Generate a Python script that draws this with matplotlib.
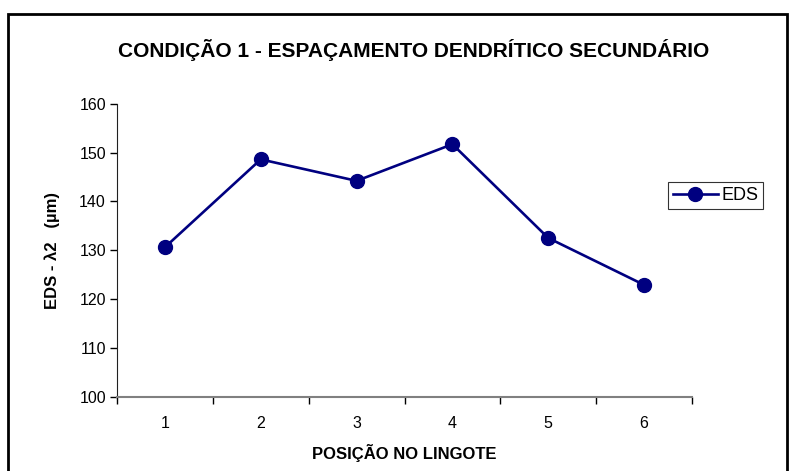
import matplotlib.pyplot as plt
from matplotlib.patches import Rectangle

plt.rcParams['font.family'] = ['Liberation Sans', 'DejaVu Sans']

# Data
positions = [1, 2, 3, 4, 5, 6]
eds_values = [130.6, 148.6, 144.2, 151.7, 132.5, 122.9]
y_ticks = [100, 110, 120, 130, 140, 150, 160]

fig = plt.figure(figsize=(7.9, 4.71), dpi=100)
ax = fig.add_axes([117 / 790, 1 - 396.7 / 471, (692 - 117) / 790, (396.7 - 103.7) / 471])

ax.plot(positions, eds_values, color='#000080', linewidth=1.9,
        marker='o', markersize=10, label='EDS', clip_on=False, zorder=3)

ax.set_xlim(0.5, 6.5)
ax.set_ylim(100, 160)
ax.set_yticks(y_ticks)
ax.set_xticks(positions)
ax.set_xticks([p + 0.5 for p in [0] + positions], minor=True)
ax.tick_params(axis='x', which='major', length=0, pad=14, labelsize=11.5)
ax.tick_params(axis='x', which='minor', length=5, width=1, color='black', direction='out')
ax.tick_params(axis='y', length=5, width=1, direction='out', labelsize=11.5, pad=3)

for side in ['top', 'right']:
    ax.spines[side].set_visible(False)
ax.spines['left'].set_color('#202020')
ax.spines['bottom'].set_color('#808080')
ax.spines['bottom'].set_linewidth(1.5)

ax.set_xlabel('POSIÇÃO NO LINGOTE', fontsize=12, fontweight='bold', labelpad=9)
ax.set_ylabel('EDS - λ2   (µm)', fontsize=12, fontweight='bold', labelpad=14)

fig.text(414 / 790, 1 - 50 / 471, 'CONDIÇÃO 1 - ESPAÇAMENTO DENDRÍTICO SECUNDÁRIO',
         ha='center', va='center', fontsize=15, fontweight='bold')

leg = ax.legend(loc='center left', bbox_to_anchor=(668 / 790, 1 - 195.5 / 471),
                bbox_transform=fig.transFigure, frameon=True, fancybox=False,
                fontsize=13, handlelength=2.5, borderpad=0.25, handletextpad=0.2,
                borderaxespad=0)
leg.get_frame().set_edgecolor('black')
leg.get_frame().set_linewidth(0.8)

# outer border of the chart area
fig.patches.append(Rectangle((8 / 790, -0.05), (787 - 8) / 790, 1.05 - 14 / 471,
                             transform=fig.transFigure, fill=False,
                             edgecolor='black', linewidth=2))

fig.savefig('out.png', dpi=100)
